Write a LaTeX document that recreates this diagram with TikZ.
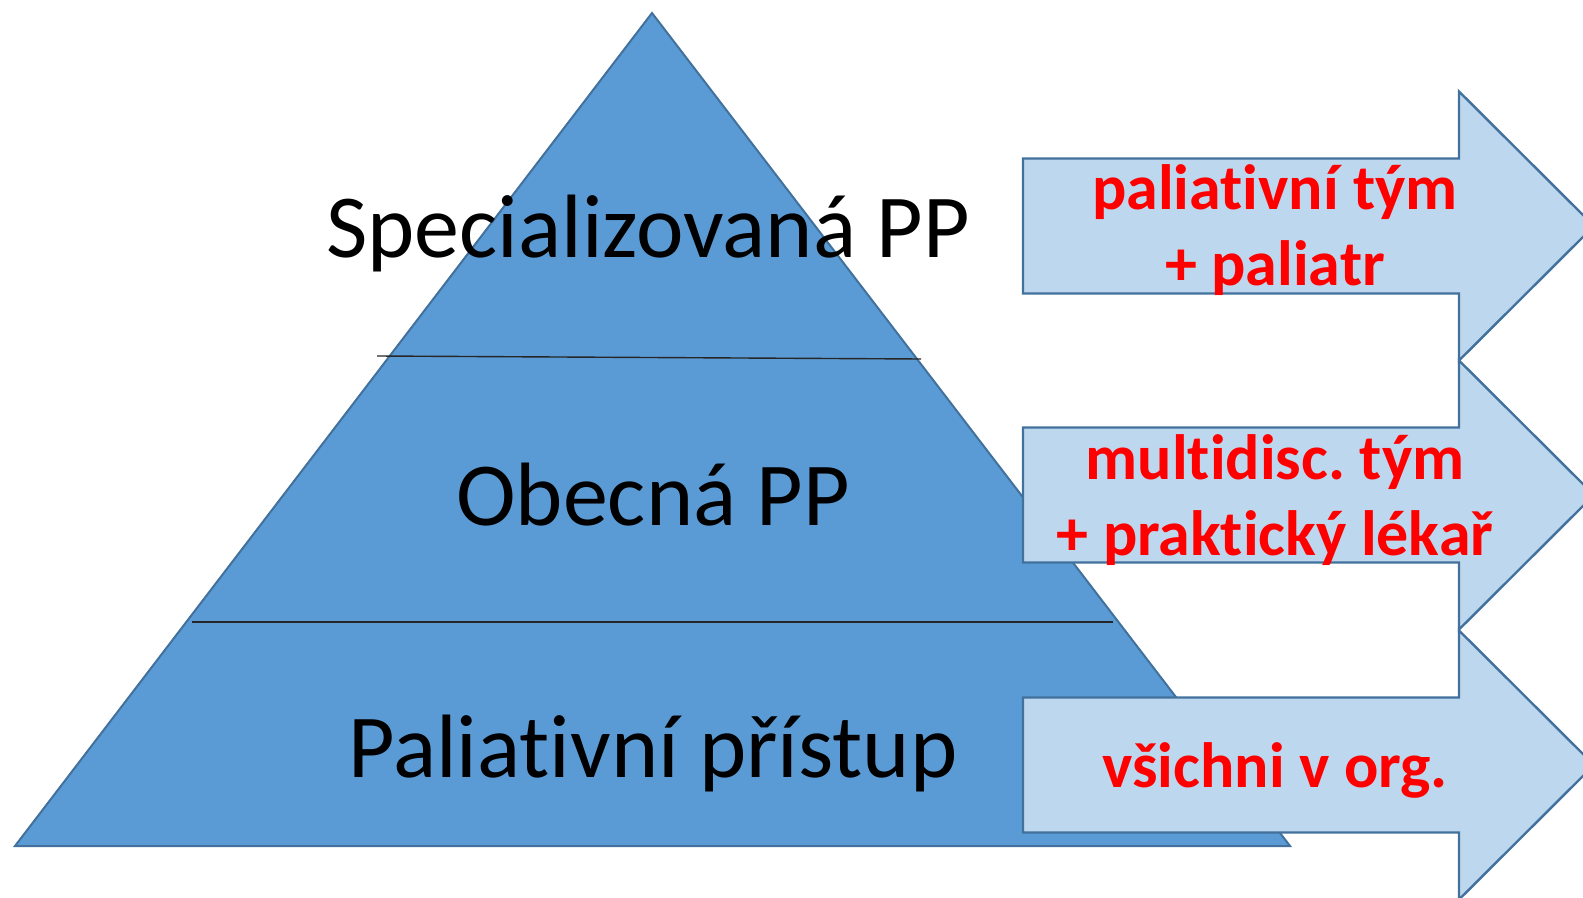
\documentclass[tikz,border=0pt]{standalone}
\usepackage{fontspec}
\setmainfont[Ligatures={NoCommon,NoRequired,NoContextual},RawFeature={-liga;-clig;-dlig}]{Carlito}
\definecolor{pyrfill}{HTML}{5B9BD5}
\definecolor{edgeblue}{HTML}{41719C}
\definecolor{arrfill}{HTML}{BDD7EE}
\definecolor{txtred}{HTML}{FF0000}
\frenchspacing
\newcommand{\nolig}{\kern0pt}
\begin{document}
\begin{tikzpicture}[x=0.5pt,y=-0.5pt,
  levellabel/.style={font=\fontsize{45}{54}\selectfont, anchor=base, inner sep=0pt, text=black},
  arrowlabel/.style={font=\fontsize{32}{38}\selectfont\bfseries, text=txtred, anchor=base, inner sep=0pt},
  pyramid/.style={fill=pyrfill, draw=edgeblue, line width=1pt, line join=miter},
  divider/.style={draw=black!85, line width=0.7pt},
  bigarrow/.style={fill=arrfill, draw=edgeblue, line width=1.2pt, line join=miter}]
\useasboundingbox (0,0) rectangle (1583,898);
\begin{scope}
\clip (0,0) rectangle (1583,898);
\path[pyramid] (652,13) -- (1290,846) -- (15,846) -- cycle;
\coordinate (d1l) at (377,356);
\coordinate (d1r) at (921,359);
\coordinate (d2l) at (192,622);
\coordinate (d2r) at (1113,622);
\draw[divider] (d1l) -- (d1r);
\draw[divider] (d2l) -- (d2r);
\node[levellabel] (spec) at (648,258) {Specializovaná PP};
\node[levellabel] (obec) at (653,525) {Obecná PP};
\node[levellabel] (pal) at (653,777) {Paliat\nolig ivní přístup};
\foreach \c in {226,495,765}{
  \path[bigarrow] (1023,\c-67.5) -- (1459,\c-67.5) -- (1459,\c-134.5) -- (1594,\c)
    -- (1459,\c+134.5) -- (1459,\c+67.5) -- (1023,\c+67.5) -- cycle;
}
\node[arrowlabel] (a1l1) at (1275,210) {paliat\nolig ivní tým};
\node[arrowlabel] (a1l2) at (1275,286) {+ paliatr};
\node[arrowlabel] (a2l1) at (1275,479) {mult\nolig idisc. tým};
\node[arrowlabel] (a2l2) at (1275,555) {+ prakt\nolig ický lékař};
\node[arrowlabel] (a3l1) at (1275,787) {všichni v org.};
\end{scope}
\end{tikzpicture}
\end{document}
